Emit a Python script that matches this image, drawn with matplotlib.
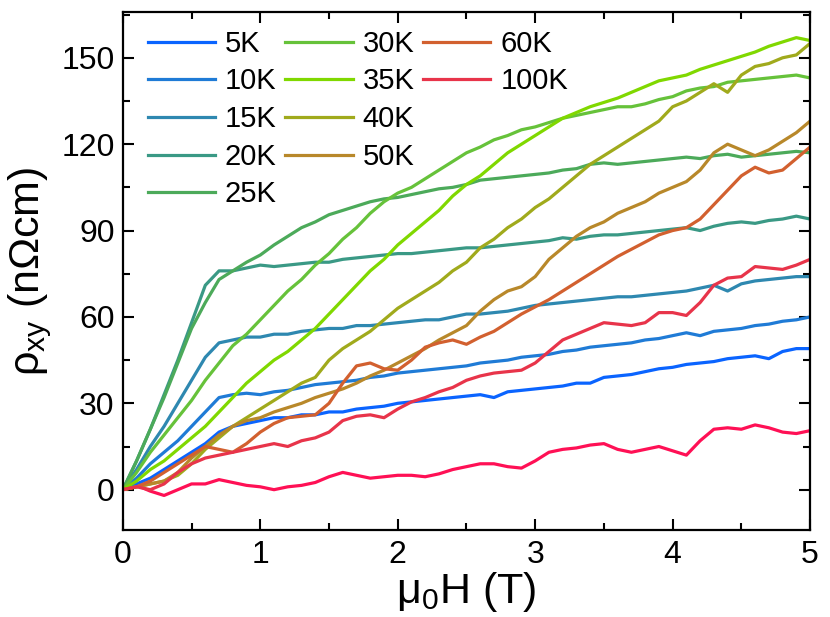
import numpy as np
import matplotlib
matplotlib.use("Agg")
from matplotlib import pyplot as plt
from matplotlib.lines import Line2D
from matplotlib.ticker import MultipleLocator

plt.rcParams['font.family'] = ['Liberation Sans', 'DejaVu Sans']
plt.rcParams['mathtext.fontset'] = 'custom'
plt.rcParams['mathtext.rm'] = 'Liberation Sans'
plt.rcParams['mathtext.it'] = 'Liberation Sans:italic'

# field grid (T)
field = np.round(np.arange(0, 5.01, 0.1), 2)

# rho_xy (nOhm cm)
r5 = [0, 2, 4, 7, 10, 13, 16, 20, 22, 23, 24, 25, 25, 26, 26, 27, 27, 28, 28.5, 29,
      30, 30.5, 31, 31.5, 32, 32.5, 33, 32, 34, 34.5, 35, 35.5, 36, 37, 37, 39, 39.5, 40, 41, 42,
      42.5, 43.5, 44, 44.5, 45.5, 46, 46.5, 45.5, 48, 49, 49]
r10 = [0, 4, 9, 13, 17, 22, 27, 32, 33, 33.5, 33, 34, 34.5, 35.5, 36.5, 37, 37.5, 38, 39, 39.5,
       40.5, 41, 41.5, 42, 42.5, 43, 44, 44.5, 45, 46, 46.5, 47, 48, 48.5, 49.5, 50, 50.5, 51, 52, 52.5,
       53.5, 54.5, 53.5, 55, 55.5, 56, 57, 57.5, 58.5, 59, 60]
r15 = [0, 7, 15, 22, 30, 38, 46, 51, 52, 53, 53, 54, 54, 55, 55.5, 56, 56, 57, 57, 57.5,
       58, 58.5, 59, 59, 60, 61, 61, 61.5, 62, 63, 64, 64.5, 65, 65.5, 66, 66.5, 67, 67, 67.5, 68,
       68.5, 69, 70, 71, 69, 71.5, 72.5, 73, 73.5, 74, 74]
r20 = [0, 10, 21, 33, 45, 58, 71, 76, 76, 77, 78, 77.5, 78, 78.5, 79, 79, 80, 80.5, 81, 81.5,
       82, 82, 82.5, 83, 83.5, 84, 84, 84.5, 85, 85.5, 86, 86.5, 87.5, 87, 88, 88.5, 88.5, 89, 89.5, 90,
       90.5, 91, 90, 91.5, 92.5, 93, 92.5, 93.5, 94, 95, 94]
r25 = [0, 10, 21, 32, 44, 56, 65, 73, 76, 79, 81.5, 85, 88, 91, 93, 95.5, 97, 98.5, 100, 101,
       101.5, 102.5, 103.5, 104.5, 105, 106, 107.5, 108, 108.5, 109, 109.5, 110, 111, 111.5, 113, 113.5, 113, 113.5, 114, 114.5,
       115, 115.5, 115, 116, 116.5, 115.5, 116, 116.5, 117, 117.5, 117]
r30 = [0, 6, 13, 19, 25, 31, 38, 44, 50, 54, 59, 64, 69, 73, 78, 82, 87, 91, 96, 100,
       103, 105, 108, 111, 114, 117, 119, 121.5, 123, 125, 126, 127.5, 129, 130, 131, 132, 133, 133, 134, 135.5,
       136.5, 138.5, 139.5, 140, 141.5, 142, 142.5, 143, 143.5, 144, 143]
r35 = [0, 3, 7, 10, 14, 18, 22, 27, 32, 37, 41, 45, 48, 52, 56, 61, 66, 71, 76, 80,
       85, 89, 93, 97, 102, 106, 109, 113, 117, 120, 123, 126, 129, 131, 133, 134.5, 136, 138, 140, 142,
       143, 144, 146, 147.5, 149, 150.5, 152, 154, 155.5, 157, 156]
r40 = [0, 1, 2, 3, 5, 9, 14, 18, 22, 25, 28, 31, 34, 37, 39, 45, 49, 52, 55, 59,
       63, 66, 69, 72, 76, 79, 84, 87, 91, 94, 98, 101, 105, 109, 113, 116, 119, 122, 125, 128,
       133, 135, 138, 141, 138, 144, 147, 148, 150, 151, 155]
r50 = [0, 1, 2, 3, 6, 11, 15, 19, 22, 24, 25, 27, 28.5, 30, 32, 33.5, 35, 37, 39.5, 41.5,
       44, 46.5, 49, 52, 54.5, 57, 62, 66, 69, 70.5, 74, 80, 84, 88, 91, 93, 96, 98, 100, 103,
       105, 107, 111, 117, 120, 118, 116, 118, 121, 124, 128]
r60 = [0, 1, 3, 6, 9, 12, 15, 14, 13, 16, 20, 23, 25, 25.5, 26, 30, 37, 43, 44, 42,
       41.5, 45, 49.5, 51, 52, 50.5, 53, 55, 58, 61, 63.5, 66, 69, 72, 75, 78, 81, 83.5, 86, 88.5,
       90, 91, 94, 99, 104, 109, 112, 110, 111, 115, 119]
r100 = [0, 1, 0, 2, 6, 9, 11, 12, 13, 14, 15, 16, 15, 17, 18, 20, 24, 25.5, 26, 25,
        28, 30.5, 32, 34, 35.5, 38, 39.5, 40.5, 41, 41.5, 44, 48, 52, 54, 56, 58, 57.5, 57, 58, 61.5,
        61.5, 60.5, 65, 71, 73.5, 74, 77.5, 77, 76.5, 78, 80]
r_extra = [0, 1.5, -0.5, -2, 0, 2, 2, 3.5, 2.5, 1.5, 1, 0, 1, 1.5, 2.5, 4.5, 6, 5, 4, 4.5,
           5, 5, 4.5, 5.5, 7, 8, 9, 9, 8, 7.5, 10, 13, 14, 14.5, 15.5, 16, 14, 13, 14, 15,
           13.5, 12, 17, 21, 21.5, 21, 22.5, 21.5, 20, 19.5, 20.5]

labels = ["5K", "10K", "15K", "20K", "25K", "30K", "35K", "40K", "50K", "60K", "100K"]
curves = [r5, r10, r15, r20, r25, r30, r35, r40, r50, r60, r100]
colors = ["#0a64ff", "#1f7bd6", "#2e88b0", "#3a9985", "#4caa5a", "#66c23a",
          "#80d800", "#a0aa1c", "#b8882a", "#d2602f", "#e8344a"]

fig = plt.figure(figsize=(8.3, 6.17), dpi=100)
ax = fig.add_axes([0.148, 0.141, 0.828, 0.840])

ax.plot(field, r_extra, color="#ff1055", lw=2.3)
for y, c, lab in zip(curves, colors, labels):
    ax.plot(field, y, color=c, lw=2.3, label=lab)

ax.set_xlim(0, 5)
ax.set_ylim(-14, 166)
ax.xaxis.set_major_locator(MultipleLocator(1))
ax.xaxis.set_minor_locator(MultipleLocator(0.5))
ax.yaxis.set_major_locator(MultipleLocator(30))
ax.yaxis.set_minor_locator(MultipleLocator(15))
ax.tick_params(which="both", direction="in", top=True, right=True, width=1.5, labelsize=23)
ax.tick_params(which="major", length=8)
ax.tick_params(which="minor", length=5)
ax.tick_params(axis="x", pad=7)
ax.tick_params(axis="y", pad=6)
for s in ax.spines.values():
    s.set_linewidth(1.6)

ax.set_xlabel(r"μ$_{\mathregular{0}}$H (T)", fontsize=31, labelpad=0)
ax.set_ylabel(r"ρ$_{\mathregular{xy}}$ (nΩcm)", fontsize=31, labelpad=5)

# legend laid out 5 / 4 / 2 with blank slots
h, l = ax.get_legend_handles_labels()
blank = Line2D([], [], alpha=0)
handles = h[:5] + h[5:9] + [blank] + h[9:11] + [blank] * 3
names = l[:5] + l[5:9] + [""] + l[9:11] + [""] * 3
ax.legend(handles, names, ncol=3, loc="upper left", bbox_to_anchor=(0.036, 0.965),
          frameon=False, fontsize=21, handlelength=2.3,
          handletextpad=0.35, columnspacing=0.3, labelspacing=0.33,
          borderpad=0, borderaxespad=0)

fig.savefig("out.png", dpi=100)
